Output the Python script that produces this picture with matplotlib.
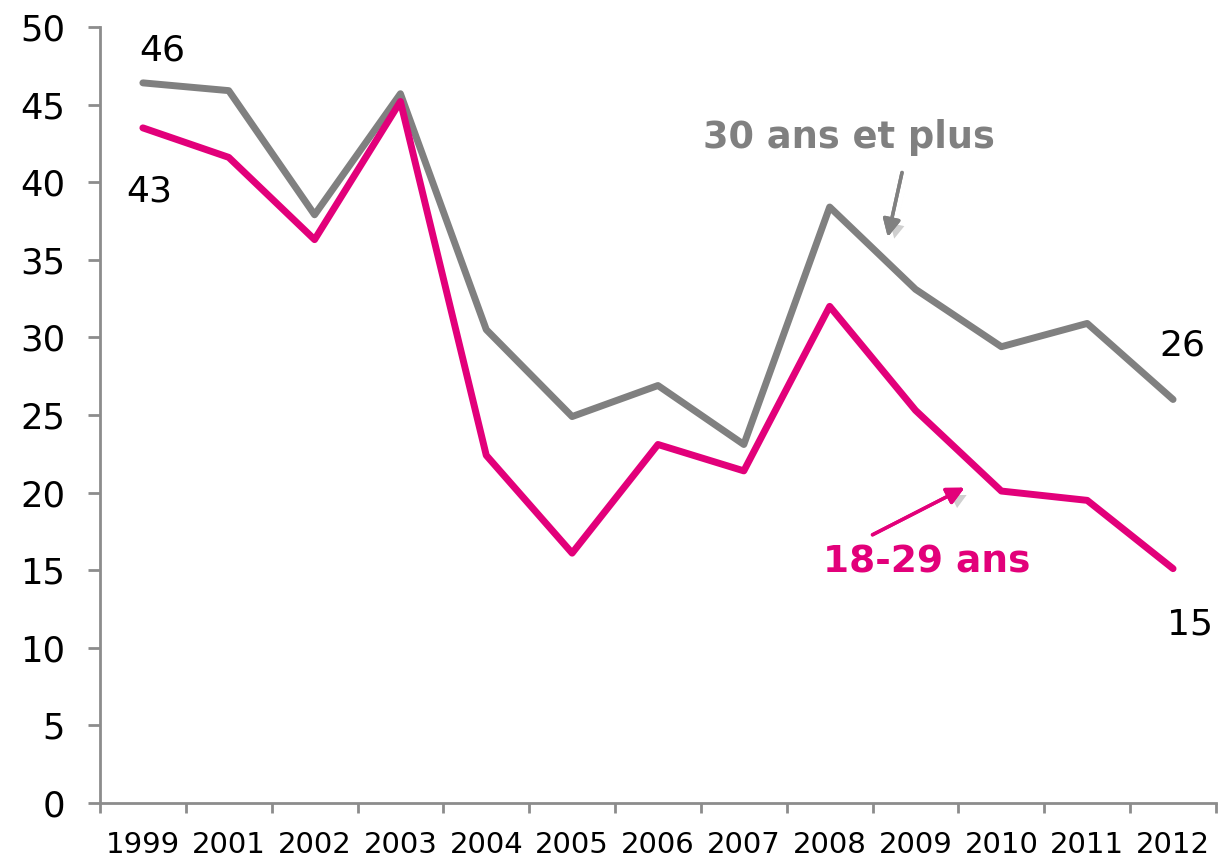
import matplotlib
matplotlib.use('Agg')
import matplotlib.pyplot as plt
import matplotlib.patheffects as pe
import numpy as np

matplotlib.rcParams['font.family'] = 'DejaVu Sans'

# données
annees = ['1999', '2001', '2002', '2003', '2004', '2005', '2006',
          '2007', '2008', '2009', '2010', '2011', '2012']
plus30 = [46.4, 45.9, 37.9, 45.7, 30.5, 24.9, 26.9, 23.1, 38.4, 33.1, 29.4, 30.9, 26.0]
jeunes = [43.5, 41.6, 36.3, 45.2, 22.4, 16.1, 23.1, 21.4, 32.0, 25.3, 20.1, 19.5, 15.1]

gris = '#808080'
rose = '#E2007A'
axe = '#8c8c8c'

fig = plt.figure(figsize=(12.31, 8.57), dpi=100)
ax = fig.add_axes([0.0812, 0.063, 0.9066, 0.9055])

x = np.arange(len(annees))
ax.plot(x, plus30, color=gris, lw=5, solid_capstyle='round', solid_joinstyle='round')
ax.plot(x, jeunes, color=rose, lw=5, solid_capstyle='round', solid_joinstyle='round')

ax.set_xlim(-0.5, len(annees) - 0.5)
ax.set_ylim(0, 50)
ax.set_yticks(range(0, 51, 5))

# axe des catégories : graduations entre les années, libellés au centre
ax.set_xticks(np.arange(-0.5, len(annees), 1))
ax.set_xticklabels([])
ax.set_xticks(x, minor=True)
ax.set_xticklabels(annees, minor=True)
ax.tick_params(axis='x', which='major', length=7, width=2, color=axe)
ax.tick_params(axis='x', which='minor', length=0, pad=20, labelsize=21)
ax.tick_params(axis='y', length=9, width=2, color=axe, pad=16, labelsize=25.5)

for s in ['top', 'right']:
    ax.spines[s].set_visible(False)
for s in ['left', 'bottom']:
    ax.spines[s].set_color(axe)
    ax.spines[s].set_linewidth(2)

# valeurs de début et de fin
ax.text(0.22, 48.5, '46', fontsize=26, ha='center', va='center')
ax.text(0.08, 39.4, '43', fontsize=26, ha='center', va='center')
ax.text(12.11, 29.5, '26', fontsize=26, ha='center', va='center')
ax.text(12.2, 11.5, '15', fontsize=26, ha='center', va='center')

ombre = [pe.withSimplePatchShadow(offset=(4, -4), shadow_rgbFace='#a0a0a0', alpha=0.5), pe.Normal()]

ax.text(8.22, 42.85, '30 ans et plus', fontsize=26.5, fontweight='bold', color=gris,
        ha='center', va='center')
ax.annotate('', xy=(8.67, 36.3), xytext=(8.85, 40.8),
            arrowprops=dict(arrowstyle='-|>', color=gris, lw=2.5, mutation_scale=26,
                            path_effects=ombre))

ax.text(9.13, 15.5, '18-29 ans', fontsize=27, fontweight='bold', color=rose,
        ha='center', va='center')
ax.annotate('', xy=(9.6, 20.4), xytext=(8.47, 17.2),
            arrowprops=dict(arrowstyle='-|>', color=rose, lw=2.5, mutation_scale=26,
                            path_effects=ombre))

plt.savefig('out.png', dpi=100)
